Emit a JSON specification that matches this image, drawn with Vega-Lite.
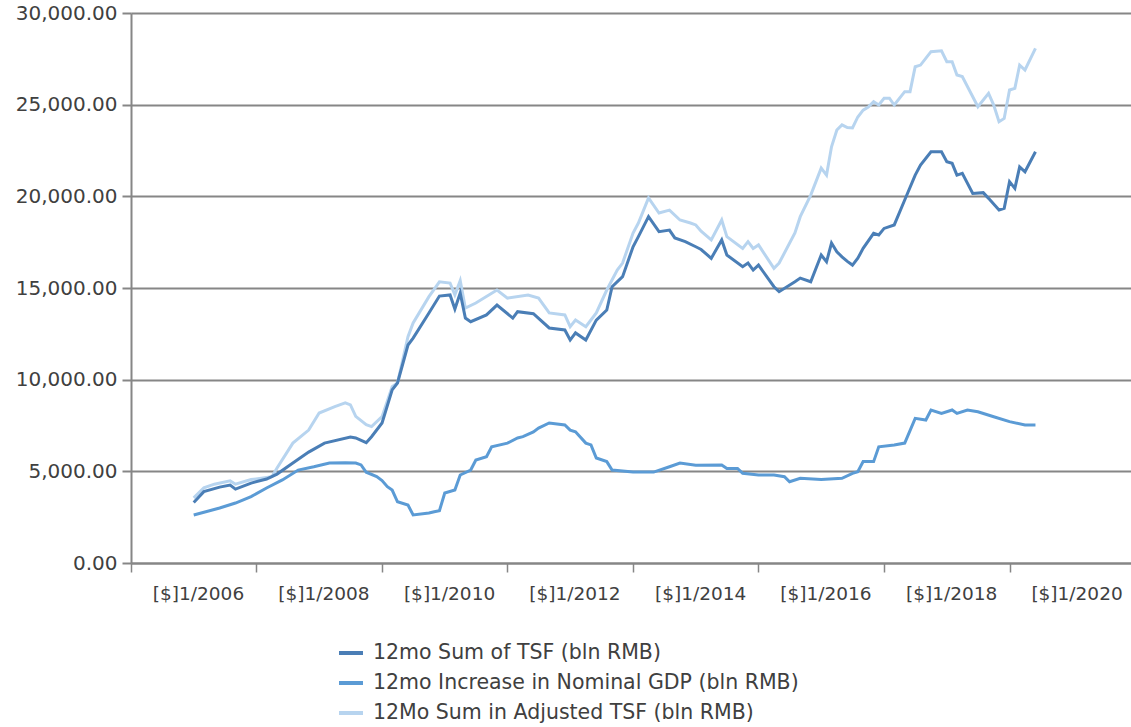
{
  "$schema": "https://vega.github.io/schema/vega-lite/v6.json",
  "autosize": "none",
  "width": 1000,
  "height": 550,
  "padding": {"left": 131, "top": 13, "right": 0, "bottom": 164},
  "background": "white",
  "config": {
    "view": {"stroke": null},
    "font": "DejaVu Sans"
  },
  "datasets": {
    "tsf": [
      {"d": "2006-01", "v": 3300}, {"d": "2006-03", "v": 3890}, {"d": "2006-06", "v": 4140}, {"d": "2006-08", "v": 4250},
      {"d": "2006-09", "v": 4030}, {"d": "2006-12", "v": 4360}, {"d": "2007-03", "v": 4580}, {"d": "2007-05", "v": 4850},
      {"d": "2007-08", "v": 5450}, {"d": "2007-11", "v": 6050}, {"d": "2008-02", "v": 6540}, {"d": "2008-07", "v": 6870},
      {"d": "2008-08", "v": 6820}, {"d": "2008-10", "v": 6560}, {"d": "2008-11", "v": 6890}, {"d": "2009-01", "v": 7640},
      {"d": "2009-03", "v": 9440}, {"d": "2009-04", "v": 9820}, {"d": "2009-06", "v": 11890}, {"d": "2009-07", "v": 12270},
      {"d": "2009-10", "v": 13640}, {"d": "2009-12", "v": 14560}, {"d": "2010-02", "v": 14620}, {"d": "2010-03", "v": 13850},
      {"d": "2010-04", "v": 14730}, {"d": "2010-05", "v": 13360}, {"d": "2010-06", "v": 13160}, {"d": "2010-09", "v": 13530},
      {"d": "2010-11", "v": 14070}, {"d": "2011-02", "v": 13360}, {"d": "2011-03", "v": 13710}, {"d": "2011-06", "v": 13600},
      {"d": "2011-09", "v": 12820}, {"d": "2011-12", "v": 12710}, {"d": "2012-01", "v": 12160}, {"d": "2012-02", "v": 12550},
      {"d": "2012-04", "v": 12160}, {"d": "2012-06", "v": 13250}, {"d": "2012-08", "v": 13800}, {"d": "2012-09", "v": 15070},
      {"d": "2012-11", "v": 15620}, {"d": "2013-01", "v": 17250}, {"d": "2013-02", "v": 17800}, {"d": "2013-04", "v": 18890},
      {"d": "2013-06", "v": 18070}, {"d": "2013-08", "v": 18160}, {"d": "2013-09", "v": 17730}, {"d": "2013-11", "v": 17530},
      {"d": "2014-01", "v": 17250}, {"d": "2014-02", "v": 17100}, {"d": "2014-04", "v": 16620}, {"d": "2014-06", "v": 17620},
      {"d": "2014-07", "v": 16800}, {"d": "2014-10", "v": 16160}, {"d": "2014-11", "v": 16360}, {"d": "2014-12", "v": 15980},
      {"d": "2015-01", "v": 16250}, {"d": "2015-04", "v": 15070}, {"d": "2015-05", "v": 14800}, {"d": "2015-08", "v": 15340},
      {"d": "2015-09", "v": 15540}, {"d": "2015-11", "v": 15340}, {"d": "2016-01", "v": 16800}, {"d": "2016-02", "v": 16430},
      {"d": "2016-03", "v": 17450}, {"d": "2016-04", "v": 16980}, {"d": "2016-05", "v": 16700}, {"d": "2016-06", "v": 16450},
      {"d": "2016-07", "v": 16250}, {"d": "2016-08", "v": 16620}, {"d": "2016-09", "v": 17160}, {"d": "2016-11", "v": 17980},
      {"d": "2016-12", "v": 17890}, {"d": "2017-01", "v": 18250}, {"d": "2017-03", "v": 18440}, {"d": "2017-05", "v": 19800},
      {"d": "2017-07", "v": 21160}, {"d": "2017-08", "v": 21710}, {"d": "2017-10", "v": 22430}, {"d": "2017-12", "v": 22430},
      {"d": "2018-01", "v": 21890}, {"d": "2018-02", "v": 21800}, {"d": "2018-03", "v": 21160}, {"d": "2018-04", "v": 21250},
      {"d": "2018-06", "v": 20160}, {"d": "2018-08", "v": 20200}, {"d": "2018-09", "v": 19890}, {"d": "2018-11", "v": 19250},
      {"d": "2018-12", "v": 19350}, {"d": "2019-01", "v": 20800}, {"d": "2019-02", "v": 20430}, {"d": "2019-03", "v": 21610},
      {"d": "2019-04", "v": 21340}, {"d": "2019-06", "v": 22430}
    ],
    "gdp": [
      {"d": "2006-01", "v": 2620}, {"d": "2006-06", "v": 3000}, {"d": "2006-09", "v": 3270}, {"d": "2006-12", "v": 3620},
      {"d": "2007-03", "v": 4090}, {"d": "2007-06", "v": 4530}, {"d": "2007-09", "v": 5070}, {"d": "2007-12", "v": 5250},
      {"d": "2008-03", "v": 5450}, {"d": "2008-06", "v": 5470}, {"d": "2008-08", "v": 5450}, {"d": "2008-09", "v": 5350},
      {"d": "2008-10", "v": 4950}, {"d": "2008-12", "v": 4710}, {"d": "2009-01", "v": 4500}, {"d": "2009-02", "v": 4160},
      {"d": "2009-03", "v": 3980}, {"d": "2009-04", "v": 3340}, {"d": "2009-06", "v": 3160}, {"d": "2009-07", "v": 2620},
      {"d": "2009-10", "v": 2730}, {"d": "2009-11", "v": 2800}, {"d": "2009-12", "v": 2850}, {"d": "2010-01", "v": 3820},
      {"d": "2010-03", "v": 3980}, {"d": "2010-04", "v": 4800}, {"d": "2010-06", "v": 5070}, {"d": "2010-07", "v": 5620},
      {"d": "2010-09", "v": 5800}, {"d": "2010-10", "v": 6340}, {"d": "2011-01", "v": 6540}, {"d": "2011-03", "v": 6820},
      {"d": "2011-04", "v": 6890}, {"d": "2011-06", "v": 7150}, {"d": "2011-07", "v": 7360}, {"d": "2011-09", "v": 7640},
      {"d": "2011-12", "v": 7530}, {"d": "2012-01", "v": 7250}, {"d": "2012-02", "v": 7160}, {"d": "2012-04", "v": 6540},
      {"d": "2012-05", "v": 6440}, {"d": "2012-06", "v": 5730}, {"d": "2012-08", "v": 5530}, {"d": "2012-09", "v": 5070},
      {"d": "2013-01", "v": 4960}, {"d": "2013-05", "v": 4960}, {"d": "2013-08", "v": 5250}, {"d": "2013-10", "v": 5450},
      {"d": "2014-01", "v": 5330}, {"d": "2014-06", "v": 5350}, {"d": "2014-07", "v": 5160}, {"d": "2014-09", "v": 5160},
      {"d": "2014-10", "v": 4890}, {"d": "2015-01", "v": 4800}, {"d": "2015-04", "v": 4800}, {"d": "2015-06", "v": 4710},
      {"d": "2015-07", "v": 4430}, {"d": "2015-09", "v": 4620}, {"d": "2016-01", "v": 4560}, {"d": "2016-05", "v": 4620},
      {"d": "2016-07", "v": 4890}, {"d": "2016-08", "v": 4980}, {"d": "2016-09", "v": 5530}, {"d": "2016-11", "v": 5530},
      {"d": "2016-12", "v": 6340}, {"d": "2017-03", "v": 6440}, {"d": "2017-05", "v": 6540}, {"d": "2017-07", "v": 7890},
      {"d": "2017-09", "v": 7800}, {"d": "2017-10", "v": 8345}, {"d": "2017-12", "v": 8160}, {"d": "2018-02", "v": 8345},
      {"d": "2018-03", "v": 8160}, {"d": "2018-05", "v": 8345}, {"d": "2018-07", "v": 8250}, {"d": "2018-10", "v": 7980},
      {"d": "2019-01", "v": 7710}, {"d": "2019-04", "v": 7530}, {"d": "2019-06", "v": 7530}
    ],
    "adj": [
      {"d": "2006-01", "v": 3550}, {"d": "2006-03", "v": 4100}, {"d": "2006-05", "v": 4300}, {"d": "2006-08", "v": 4480},
      {"d": "2006-09", "v": 4300}, {"d": "2006-12", "v": 4550}, {"d": "2007-04", "v": 4710}, {"d": "2007-05", "v": 5180},
      {"d": "2007-08", "v": 6540}, {"d": "2007-11", "v": 7250}, {"d": "2008-01", "v": 8180}, {"d": "2008-04", "v": 8530},
      {"d": "2008-06", "v": 8730}, {"d": "2008-07", "v": 8620}, {"d": "2008-08", "v": 8000}, {"d": "2008-10", "v": 7550},
      {"d": "2008-11", "v": 7440}, {"d": "2009-01", "v": 7980}, {"d": "2009-03", "v": 9620}, {"d": "2009-04", "v": 9820},
      {"d": "2009-06", "v": 12340}, {"d": "2009-07", "v": 13090}, {"d": "2009-10", "v": 14530}, {"d": "2009-12", "v": 15340},
      {"d": "2010-02", "v": 15270}, {"d": "2010-03", "v": 14620}, {"d": "2010-04", "v": 15400}, {"d": "2010-05", "v": 13910},
      {"d": "2010-07", "v": 14180}, {"d": "2010-11", "v": 14890}, {"d": "2011-01", "v": 14450}, {"d": "2011-05", "v": 14620},
      {"d": "2011-07", "v": 14450}, {"d": "2011-09", "v": 13640}, {"d": "2011-12", "v": 13530}, {"d": "2012-01", "v": 12890},
      {"d": "2012-02", "v": 13250}, {"d": "2012-04", "v": 12890}, {"d": "2012-06", "v": 13640}, {"d": "2012-08", "v": 14890},
      {"d": "2012-10", "v": 15980}, {"d": "2012-11", "v": 16360}, {"d": "2013-01", "v": 18000}, {"d": "2013-02", "v": 18545},
      {"d": "2013-04", "v": 19910}, {"d": "2013-06", "v": 19090}, {"d": "2013-08", "v": 19250}, {"d": "2013-10", "v": 18710},
      {"d": "2013-12", "v": 18545}, {"d": "2014-01", "v": 18440}, {"d": "2014-02", "v": 18100}, {"d": "2014-04", "v": 17620},
      {"d": "2014-06", "v": 18710}, {"d": "2014-07", "v": 17800}, {"d": "2014-10", "v": 17160}, {"d": "2014-11", "v": 17530},
      {"d": "2014-12", "v": 17160}, {"d": "2015-01", "v": 17350}, {"d": "2015-04", "v": 16070}, {"d": "2015-05", "v": 16360},
      {"d": "2015-08", "v": 18000}, {"d": "2015-09", "v": 18890}, {"d": "2015-11", "v": 20070}, {"d": "2016-01", "v": 21540},
      {"d": "2016-02", "v": 21160}, {"d": "2016-03", "v": 22700}, {"d": "2016-04", "v": 23620}, {"d": "2016-05", "v": 23900},
      {"d": "2016-06", "v": 23750}, {"d": "2016-07", "v": 23730}, {"d": "2016-08", "v": 24330}, {"d": "2016-09", "v": 24700},
      {"d": "2016-10", "v": 24870}, {"d": "2016-11", "v": 25160}, {"d": "2016-12", "v": 24980}, {"d": "2017-01", "v": 25350},
      {"d": "2017-02", "v": 25350}, {"d": "2017-03", "v": 24980}, {"d": "2017-05", "v": 25710}, {"d": "2017-06", "v": 25710},
      {"d": "2017-07", "v": 27070}, {"d": "2017-08", "v": 27160}, {"d": "2017-10", "v": 27890}, {"d": "2017-12", "v": 27940},
      {"d": "2018-01", "v": 27340}, {"d": "2018-02", "v": 27340}, {"d": "2018-03", "v": 26620}, {"d": "2018-04", "v": 26530},
      {"d": "2018-07", "v": 24890}, {"d": "2018-09", "v": 25620}, {"d": "2018-10", "v": 24980}, {"d": "2018-11", "v": 24070},
      {"d": "2018-12", "v": 24250}, {"d": "2019-01", "v": 25800}, {"d": "2019-02", "v": 25890}, {"d": "2019-03", "v": 27160},
      {"d": "2019-04", "v": 26890}, {"d": "2019-06", "v": 28070}
    ]
  },
  "encoding": {
    "x": {
      "field": "d", "type": "temporal",
      "scale": {"domain": [{"year": 2005, "month": 1, "date": 1}, {"year": 2020, "month": 12, "date": 8}]},
      "axis": {
        "title": null,
        "values": [
          {"year": 2005, "month": 1, "date": 1}, {"year": 2007, "month": 1, "date": 1}, {"year": 2009, "month": 1, "date": 1},
          {"year": 2011, "month": 1, "date": 1}, {"year": 2013, "month": 1, "date": 1}, {"year": 2015, "month": 1, "date": 1},
          {"year": 2017, "month": 1, "date": 1}, {"year": 2019, "month": 1, "date": 1}
        ],
        "labelExpr": "'[$]1/' + (year(datum.value) + 1)",
        "labelOffset": 67,
        "labelFlush": false,
        "labelOverlap": false,
        "labelFontSize": 18.5,
        "labelColor": "#404040",
        "labelPadding": 12,
        "grid": false,
        "domainColor": "#868686",
        "domainWidth": 2,
        "tickColor": "#868686",
        "tickWidth": 1.5,
        "tickSize": 9
      }
    },
    "y": {
      "field": "v", "type": "quantitative",
      "scale": {"domain": [0, 30000], "nice": false},
      "axis": {
        "title": null,
        "values": [0, 5000, 10000, 15000, 20000, 25000, 30000],
        "format": ",.2f",
        "labelFontSize": 20,
        "labelColor": "#404040",
        "labelPadding": 5,
        "grid": true,
        "gridColor": "#868686",
        "gridWidth": 2,
        "domainColor": "#868686",
        "domainWidth": 2,
        "tickColor": "#868686",
        "tickWidth": 2,
        "tickSize": 9
      }
    },
    "color": {
      "type": "nominal",
      "scale": {
        "domain": ["12mo Sum of TSF (bln RMB)", "12mo Increase in Nominal GDP (bln RMB)", "12Mo Sum in Adjusted TSF (bln RMB)"],
        "range": ["#4a7eb6", "#5b9bd5", "#b7d4ef"]
      },
      "legend": {
        "title": null,
        "orient": "none",
        "legendX": 206,
        "legendY": 626,
        "direction": "vertical",
        "symbolType": "stroke",
        "symbolSize": 576,
        "symbolStrokeWidth": 4,
        "labelFontSize": 20.5,
        "labelLimit": 0,
        "labelColor": "#404040",
        "labelOffset": 8,
        "rowPadding": 5
      }
    }
  },
  "layer": [
    {"data": {"name": "adj"}, "mark": {"type": "line", "strokeWidth": 3}, "encoding": {"color": {"datum": "12Mo Sum in Adjusted TSF (bln RMB)"}}},
    {"data": {"name": "gdp"}, "mark": {"type": "line", "strokeWidth": 3}, "encoding": {"color": {"datum": "12mo Increase in Nominal GDP (bln RMB)"}}},
    {"data": {"name": "tsf"}, "mark": {"type": "line", "strokeWidth": 3}, "encoding": {"color": {"datum": "12mo Sum of TSF (bln RMB)"}}}
  ]
}
